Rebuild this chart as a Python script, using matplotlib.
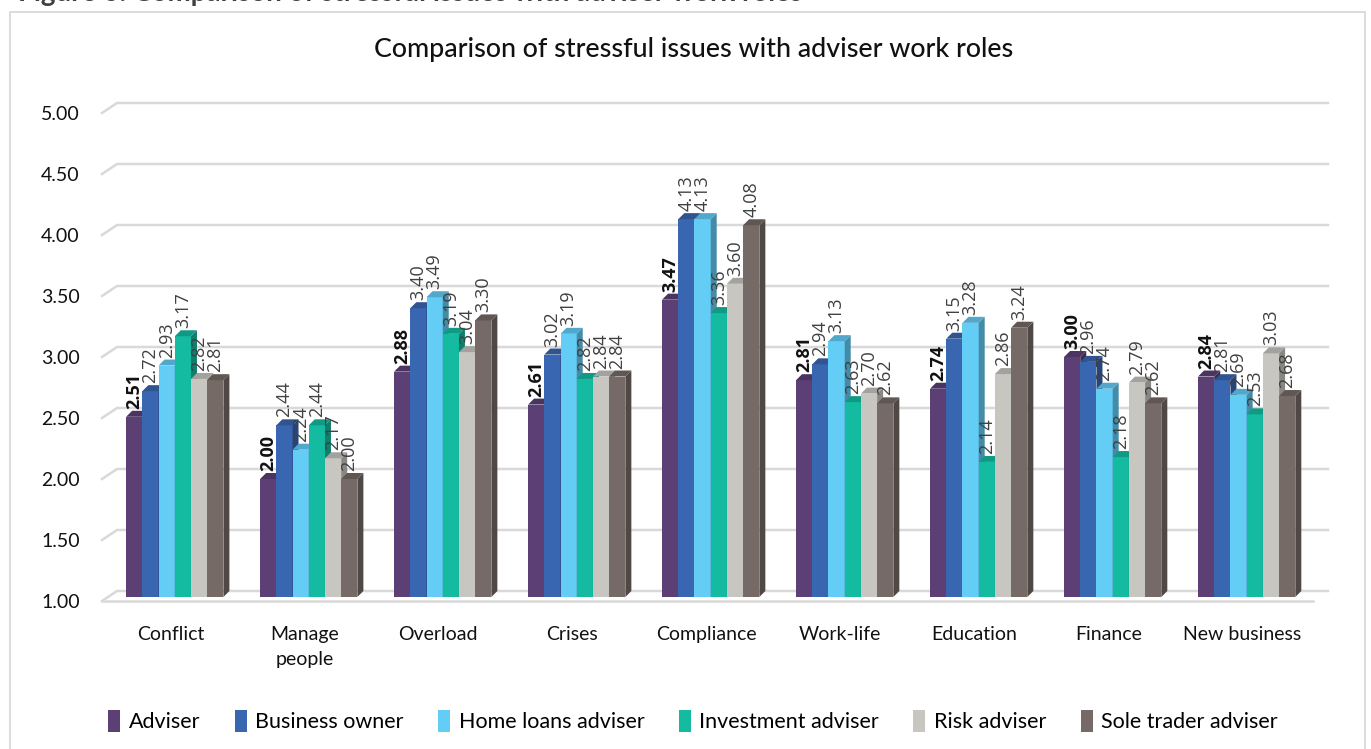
import matplotlib.pyplot as plt
import numpy as np
from matplotlib.patches import Polygon, Rectangle
from matplotlib.transforms import ScaledTranslation

categories = ["Conflict", "Manage\npeople", "Overload", "Crises", "Compliance",
              "Work-life", "Education", "Finance", "New business"]
series_names = ["Adviser", "Business owner", "Home loans adviser",
                "Investment adviser", "Risk adviser", "Sole trader adviser"]
adviser = [2.51, 2.00, 2.88, 2.61, 3.47, 2.81, 2.74, 3.00, 2.84]
business_owner = [2.72, 2.44, 3.40, 3.02, 4.13, 2.94, 3.15, 2.96, 2.81]
home_loans = [2.93, 2.24, 3.49, 3.19, 4.13, 3.13, 3.28, 2.74, 2.69]
investment = [3.17, 2.44, 3.19, 2.82, 3.36, 2.63, 2.14, 2.18, 2.53]
risk = [2.82, 2.17, 3.04, 2.84, 3.60, 2.70, 2.86, 2.79, 3.03]
sole_trader = [2.81, 2.00, 3.30, 2.84, 4.08, 2.62, 3.24, 2.62, 2.68]
yticks = [1.00, 1.50, 2.00, 2.50, 3.00, 3.50, 4.00, 4.50, 5.00]

colors = ["#5b3f75", "#3966b0", "#63cdf6", "#14bba0", "#c8c6c1", "#756a65"]
all_series = [adviser, business_owner, home_loans, investment, risk, sole_trader]


def shade(c, f):
    rgb = np.array(plt.matplotlib.colors.to_rgb(c))
    return tuple(rgb * f)


FONT = "Lato"
W, H = 1371, 749
fig = plt.figure(figsize=(W / 100, H / 100), dpi=100)

# outer frame and the caption that is cut off at the very top
fig.patches.append(Rectangle((10 / W, -0.02), (1365 - 10) / W, (749 - 12) / H + 0.02,
                             transform=fig.transFigure, fill=False,
                             edgecolor="#d6d6d6", linewidth=1.2))
fig.text(18 / W, 1 - 0.5 / H, "Figure 6: Comparison of stressful issues with adviser work roles",
         fontsize=20, fontweight="bold", color="#404040", family=FONT,
         ha="left", va="baseline")

fig.text((377 + 1010) / 2 / W, 1 - 50 / H,
         "Comparison of stressful issues with adviser work roles",
         fontsize=19.3, fontweight=500, family=FONT, color="#111111",
         ha="center", va="center")

y1, y5 = 601, 113
x_left, x_right = 102, 1328
ax = fig.add_axes([x_left / W, 1 - y1 / H, (x_right - x_left) / W, (y1 - y5) / H])
xmin, xmax = -0.51, 8.64
ax.set_xlim(xmin, xmax)
ax.set_ylim(1, 5)
for s in ax.spines.values():
    s.set_visible(False)
ax.tick_params(length=0)
ax.set_xticks(range(len(categories)))
ax.set_xticklabels(categories, fontsize=14, family=FONT, color="#111111", linespacing=1.6)
ax.set_yticks(yticks)
ax.set_yticklabels([f"{v:.2f}" for v in yticks], fontsize=14, family=FONT, color="#111111")
ax.tick_params(axis="x", pad=18)
ax.tick_params(axis="y", pad=16)

px_x = (x_right - x_left) / (xmax - xmin)
px_y = (y1 - y5) / 4.0

# back wall gridlines with a slanted left edge
wall_dx, wall_dy = 15 / px_x, 10 / px_y
for v in yticks:
    ax.plot([xmin, xmin + wall_dx, xmax], [v, v + wall_dy, v + wall_dy],
            color="#d9d9d9", lw=1.8, zorder=0, clip_on=False)
# floor front edge
ax.plot([xmin, xmax - wall_dx], [1, 1], color="#d9d9d9", lw=1.8,
        zorder=0, clip_on=False)

bw = 0.121
ddx, ddy = 6 / px_x, 6 / px_y
base = 1 + 4 / px_y
for i, (vals, c) in enumerate(zip(all_series, colors)):
    for j, v in enumerate(vals):
        x0 = j + (i - 3) * bw + 0.033
        ax.add_patch(Rectangle((x0, base), bw, v - base, facecolor=c, edgecolor="none",
                               zorder=2 + i * 0.01, clip_on=False))
        ax.add_patch(Polygon([(x0 + bw, base), (x0 + bw + ddx, base + ddy),
                              (x0 + bw + ddx, v + ddy), (x0 + bw, v)], closed=True,
                             facecolor=shade(c, 0.68), edgecolor="none",
                             zorder=2 + i * 0.01, clip_on=False))
        ax.add_patch(Polygon([(x0, v), (x0 + ddx, v + ddy), (x0 + bw + ddx, v + ddy),
                              (x0 + bw, v)], closed=True, facecolor=shade(c, 0.82),
                             edgecolor="none", zorder=2 + i * 0.01, clip_on=False))
        off = ScaledTranslation(0, 8 / 100, fig.dpi_scale_trans)
        ax.text(x0 + bw / 2, v, f"{v:.2f}", rotation=90, ha="center", va="bottom",
                fontsize=13, family="Open Sans",
                fontweight="bold" if i == 0 else "normal",
                color="#111111" if i == 0 else "#404040",
                transform=ax.transData + off, zorder=5)

handles = [Rectangle((0, 0), 1, 1, facecolor=c, edgecolor="none") for c in colors]
fig.legend(handles, series_names, loc="center", bbox_to_anchor=(0.5055, 1 - 721 / H),
           ncol=6, frameon=False, prop={"family": FONT, "size": 15.5},
           handlelength=0.55, handleheight=1.25, handletextpad=0.4, columnspacing=1.6)

fig.savefig("out.png", dpi=100)
